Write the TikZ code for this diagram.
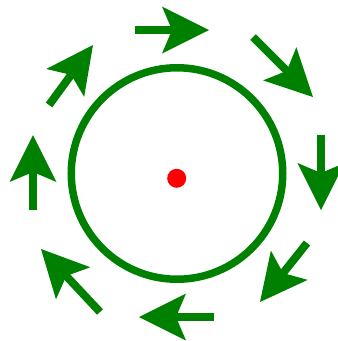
\documentclass[tikz,border=0pt]{standalone}
\usetikzlibrary{arrows.meta}
\definecolor{dgreen}{HTML}{008000}
\begin{document}
\begin{tikzpicture}[x=1pt,y=-1pt,
  bigarrow/.style={draw=dgreen, line width=8pt,
    -{Stealth[length=47pt,width=47pt,inset=10pt,line width=0pt,fill=dgreen]}}]
\useasboundingbox (0,0) rectangle (338,341);
\node[circle, draw=dgreen, line width=7.5pt, minimum size=211.5pt, inner sep=0pt] (ring) at (177,173.5) {};
\node[circle, fill=red, minimum size=19pt, inner sep=0pt] (dot) at (176.7,178.3) {};
\coordinate (a1s) at (135,30);  \coordinate (a1e) at (209,30);
\coordinate (a2s) at (253,37);  \coordinate (a2e) at (313,97);
\coordinate (a3s) at (321,135); \coordinate (a3e) at (321,210);
\coordinate (a4s) at (307,243); \coordinate (a4e) at (260,302);
\coordinate (a5s) at (214,317); \coordinate (a5e) at (139,317);
\coordinate (a6s) at (100,312); \coordinate (a6e) at (41,249);
\coordinate (a7s) at (33,210);  \coordinate (a7e) at (33,135);
\coordinate (a8s) at (49,105);  \coordinate (a8e) at (93,45);
\foreach \i in {1,...,8} { \draw[bigarrow] (a\i s) -- (a\i e); }
\end{tikzpicture}
\end{document}
